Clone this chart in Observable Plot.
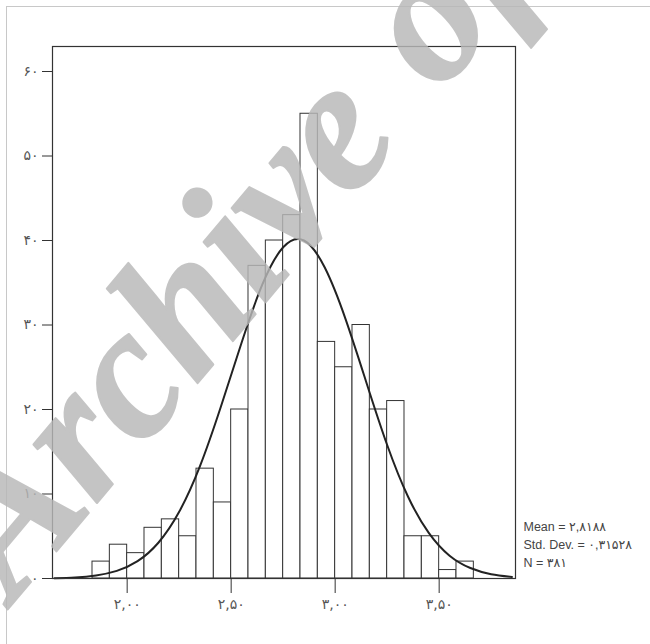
<!DOCTYPE html>
<html><head><meta charset="utf-8">
<script src="https://cdn.jsdelivr.net/npm/d3@7"></script>
<script src="https://cdn.jsdelivr.net/npm/@observablehq/plot@0.6"></script>
<style>
html,body{margin:0;padding:0;background:#fff;}
#wrap{position:relative;width:650px;height:644px;overflow:hidden;background:#fff;}
#wrap svg{position:absolute;left:0;top:0;}
#border{position:absolute;left:6px;top:6px;width:700px;height:700px;border-top:1px solid #c8c8c8;border-left:1px solid #c8c8c8;}
</style></head><body><div id="wrap"><div id="border"></div></div>
<script>
// Histogram bins (bin edges) and counts
const binEdges = [1.8333, 1.9167, 2.0000, 2.0833, 2.1667, 2.2500, 2.3333, 2.4167, 2.5000, 2.5833, 2.6667, 2.7500,
                  2.8333, 2.9167, 3.0000, 3.0833, 3.1667, 3.2500, 3.3333, 3.4167, 3.5000, 3.5833, 3.6667];
const counts = [2, 4, 3, 6, 7, 5, 13, 9, 20, 37, 40, 43, 55, 28, 25, 30, 20, 21, 5, 5, 1, 2];

// Fitted normal curve
const curveX = [1.65, 1.75, 1.85, 1.95, 2.05, 2.15, 2.25, 2.35, 2.45, 2.55, 2.65, 2.75, 2.85, 2.95, 3.05, 3.15, 3.25, 3.35, 3.45, 3.55, 3.65, 3.75, 3.85];
const curveY = [0.04, 0.13, 0.36, 0.90, 2.05, 4.23, 7.89, 13.3, 20.3, 27.9, 34.8, 39.2, 40.0, 36.8, 30.7, 23.2, 15.8, 9.7, 5.4, 2.7, 1.24, 0.51, 0.19];

// Ticks and labels
const xTicks = [2.0, 2.5, 3.0, 3.5];
const xTickLabels = ["۲,۰۰", "۲,۵۰", "۳,۰۰", "۳,۵۰"];
const yTicks = [0, 10, 20, 30, 40, 50, 60];
const yTickLabels = ["۰", "۱۰", "۲۰", "۳۰", "۴۰", "۵۰", "۶۰"];

// Legend text
const statsLines = ["Mean = ۲,۸۱۸۸", "Std. Dev. = ۰,۳۱۵۲۸", "N = ۳۸۱"];
const watermark = "Archive of SID";

const bars = counts.map((c, i) => ({lo: binEdges[i], hi: binEdges[i + 1], count: c}));
const curve = curveX.map((x, i) => ({x, y: curveY[i]}));
const xLab = new Map(xTicks.map((t, i) => [t, xTickLabels[i]]));
const yLab = new Map(yTicks.map((t, i) => [t, yTickLabels[i]]));

const chart = Plot.plot({
  width: 650, height: 644,
  marginLeft: 52, marginRight: 135, marginTop: 46, marginBottom: 66,
  style: {fontFamily: "DejaVu Sans, sans-serif", fontSize: "14px", color: "#555", background: "transparent"},
  x: {domain: [1.641, 3.867], label: null},
  y: {domain: [0, 62.96], label: null},
  marks: [
    Plot.rectY(bars, {x1: "lo", x2: "hi", y: "count", fill: "white", stroke: "#333", strokeWidth: 1}),
    Plot.line(curve, {x: "x", y: "y", curve: "natural", stroke: "#222", strokeWidth: 2}),
    Plot.frame({stroke: "#333", strokeWidth: 1.2}),
    Plot.axisX({ticks: xTicks, tickFormat: d => xLab.get(d), tickSize: 15, tickPadding: 6, stroke: "#333", fill: "#555", fontSize: 14, label: null}),
    Plot.axisY({ticks: yTicks, tickFormat: d => yLab.get(d), tickSize: 10, tickPadding: 4, stroke: "#333", fill: "#555", fontSize: 14, label: null}),
    ...statsLines.map((s, i) => Plot.text([s], {
      frameAnchor: "bottom-right", textAnchor: "start", lineAnchor: "middle",
      dx: 8, dy: -52 + i * 18, fill: "#444", fontSize: 12.5,
      fontFamily: "Liberation Sans, Arial, DejaVu Sans, sans-serif"
    }))
  ]
});

// watermark overlay
d3.select(chart).append("text")
  .attr("x", 14).attr("y", 602)
  .attr("transform", "rotate(-50, 14, 602)")
  .attr("text-anchor", "start")
  .attr("font-family", "Liberation Serif, serif")
  .attr("font-weight", "bold")
  .attr("font-style", "italic")
  .attr("font-size", 188)
  .attr("word-spacing", 10)
  .attr("fill", "#b8b8b8")
  .attr("stroke", "#b8b8b8")
  .attr("stroke-width", 2)
  .attr("stroke-linejoin", "round")
  .attr("opacity", 0.82)
  .text(watermark);

document.getElementById("wrap").appendChild(chart);
</script>
</body></html>
